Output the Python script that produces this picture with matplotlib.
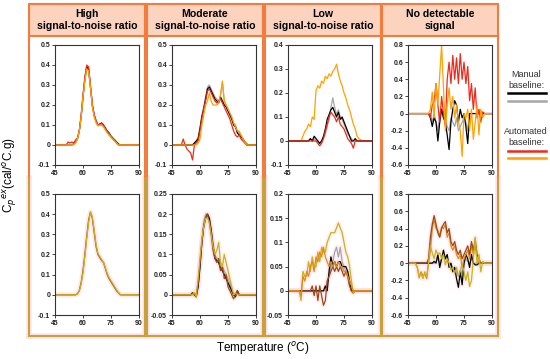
import matplotlib.pyplot as plt
from matplotlib.patches import Rectangle
from matplotlib.lines import Line2D

plt.rcParams["font.family"] = ["Liberation Sans", "DejaVu Sans"]

# temperature grid (degC), one value per degree
temps = list(range(45, 91))

titles = ["High\nsignal-to-noise ratio", "Moderate\nsignal-to-noise ratio",
          "Low\nsignal-to-noise ratio", "No detectable\nsignal"]

# ---- top row: black / grey = manual baseline, red / orange = automated
high_black = [0, 0, 0, 0, 0, 0, 0, 0, 0, 0,
              0.005, 0.015, 0.03, 0.07, 0.14, 0.24, 0.33, 0.39, 0.38, 0.29,
              0.20, 0.15, 0.12, 0.10, 0.105, 0.11, 0.10, 0.085, 0.07, 0.06,
              0.045, 0.035, 0.025, 0.015, 0.005, 0, 0, 0, 0, 0,
              0, 0, 0, 0, 0, 0]
high_grey = [0, 0, 0, 0, 0, 0, 0, 0, 0, 0,
             0.005, 0.01, 0.03, 0.07, 0.14, 0.24, 0.33, 0.38, 0.37, 0.29,
             0.20, 0.15, 0.12, 0.10, 0.10, 0.105, 0.095, 0.08, 0.065, 0.055,
             0.04, 0.03, 0.02, 0.01, 0, 0, 0, 0, 0, 0,
             0, 0, 0, 0, 0, 0]
high_red = [0, 0, 0, 0, 0, 0, 0, 0.015, 0.01, 0.015,
            0.01, 0.025, 0.035, 0.07, 0.15, 0.25, 0.34, 0.40, 0.39, 0.30,
            0.20, 0.15, 0.12, 0.10, 0.10, 0.11, 0.095, 0.08, 0.065, 0.05,
            0.04, 0.03, 0.02, 0.01, 0, 0, 0, 0, 0, 0,
            0, 0, 0, 0, 0, 0]
high_orange = [0, 0, 0, 0, 0, 0, 0, 0, 0, 0,
               0, 0.01, 0.03, 0.07, 0.14, 0.24, 0.32, 0.38, 0.37, 0.29,
               0.19, 0.14, 0.11, 0.095, 0.10, 0.10, 0.09, 0.075, 0.06, 0.05,
               0.04, 0.03, 0.02, 0.01, 0, 0, 0, 0, 0, 0,
               0, 0, 0, 0, 0, 0]

mod_black = [0, 0, 0, 0, 0, 0, 0, 0, 0, 0,
             0, 0, 0.01, 0.02, 0.03, 0.08, 0.14, 0.18, 0.23, 0.28,
             0.29, 0.27, 0.25, 0.23, 0.22, 0.21, 0.24, 0.22, 0.20, 0.19,
             0.17, 0.15, 0.13, 0.10, 0.09, 0.06, 0.05, 0.04, 0.03, 0.01,
             0, 0, 0, 0, 0, 0]
mod_grey = [0, 0, 0, 0, 0, 0, 0, 0, 0, 0,
            0, 0, 0.01, 0.02, 0.04, 0.09, 0.15, 0.19, 0.24, 0.29,
            0.30, 0.28, 0.26, 0.24, 0.23, 0.22, 0.25, 0.31, 0.22, 0.20,
            0.18, 0.16, 0.14, 0.11, 0.10, 0.07, 0.06, 0.05, 0.03, 0.02,
            0.01, 0, 0, 0, 0, 0]
mod_red = [0, 0, 0, 0, 0, 0, 0.03, 0.0, -0.02, -0.03,
           -0.04, -0.075, 0.0, 0.01, 0.02, 0.07, 0.13, 0.18, 0.22, 0.27,
           0.28, 0.26, 0.24, 0.22, 0.21, 0.22, 0.23, 0.21, 0.19, 0.17,
           0.15, 0.13, 0.10, 0.07, 0.05, 0.04, 0.05, 0.03, 0.02, 0.01,
           0, 0, 0, 0, 0, 0]
mod_orange = [0, 0, 0, 0, 0, 0, 0, 0, 0, 0,
              0, 0, 0, 0, 0.01, 0.03, 0.10, 0.15, 0.20, 0.22,
              0.26, 0.22, 0.20, 0.20, 0.20, 0.21, 0.25, 0.32, 0.22, 0.20,
              0.18, 0.16, 0.14, 0.11, 0.09, 0.07, 0.07, 0.05, 0.03, 0.01,
              0, 0, 0, 0, 0, 0]

low_black = [0, 0, 0, 0, 0, 0, 0, 0, 0, 0,
             0, 0, 0.01, 0.0, 0.02, 0.01, 0.0, -0.01, 0.0, 0.02,
             0.05, 0.09, 0.11, 0.13, 0.14, 0.12, 0.10, 0.12, 0.09, 0.10,
             0.08, 0.06, 0.04, 0.02, 0.0, 0.0, 0.01, 0, 0, 0,
             0, 0, 0, 0, 0, 0]
low_grey = [0, 0, 0, 0, 0, 0, 0, 0, 0, 0,
            0, 0, 0.01, 0.0, 0.01, 0.0, 0.0, -0.01, 0.0, 0.01,
            0.03, 0.06, 0.09, 0.14, 0.18, 0.14, 0.11, 0.13, 0.10, 0.09,
            0.07, 0.05, 0.03, 0.02, 0.01, 0, 0, 0, 0, 0,
            0, 0, 0, 0, 0, 0]
low_red = [0, 0, 0, 0, 0, 0, 0, 0, 0, 0,
           0, 0, 0, 0, 0.0, 0.0, -0.01, -0.02, -0.01, 0.01,
           0.04, 0.07, 0.10, 0.12, 0.11, 0.10, 0.08, 0.10, 0.07, 0.06,
           0.05, 0.03, 0.01, 0.0, -0.01, -0.03, 0.0, 0.0, 0, 0,
           0, 0, 0, 0, 0, 0]
low_orange = [0, 0, 0, 0, 0, 0, 0, 0.0, 0.02, 0.04,
              0.05, 0.07, 0.06, 0.10, 0.09, 0.21, 0.23, 0.22, 0.25, 0.24,
              0.27, 0.26, 0.28, 0.27, 0.29, 0.30, 0.32, 0.28, 0.25, 0.23,
              0.20, 0.18, 0.15, 0.13, 0.10, 0.07, 0.05, 0.02, 0.01, 0.005,
              0, 0, 0, 0, 0, 0]

none_black = [0, 0, 0, 0, 0, 0, 0, 0, 0, 0,
              0, 0, -0.05, -0.15, -0.05, -0.1, -0.32, -0.1, 0.05, -0.05,
              -0.1, -0.25, -0.42, -0.1, 0.05, 0.15, 0.1, -0.1, 0.05, -0.05,
              0.0, -0.15, -0.35, 0.0, 0.0, 0, 0, 0, 0, 0,
              0, 0, 0, 0, 0, 0]
none_grey = [0, 0, 0, 0, 0, 0, 0, 0, 0, 0,
             0, 0, 0.0, -0.1, 0.0, -0.1, -0.2, 0.0, 0.05, -0.05,
             -0.05, -0.15, -0.2, -0.05, -0.1, -0.15, -0.05, -0.2, -0.15, -0.1,
             -0.05, -0.1, -0.2, 0.0, 0, 0, 0, 0, 0, 0,
             0, 0, 0, 0, 0, 0]
none_red = [0, 0, 0, 0, 0, 0, 0, 0, 0, 0,
            0, 0, -0.05, 0.1, 0.15, 0.35, 0.1, -0.1, 0.2, 0.0,
            -0.15, 0.4, 0.6, 0.35, 0.68, 0.4, 0.65, 0.35, 0.7, 0.4,
            0.6, 0.35, 0.55, 0.15, 0.35, 0.05, 0.3, -0.05, 0.05, -0.1,
            0.02, 0, 0, 0, 0, 0]
none_orange = [0, 0, 0, 0, 0, 0, 0, 0, 0, 0,
               0, 0, 0.05, 0.25, -0.05, 0.35, 0.1, 0.45, 0.8, 0.3,
               -0.2, 0.1, 0.3, 0.05, 0.2, -0.05, 0.1, -0.1, -0.2, -0.5,
               0.0, -0.05, 0.05, -0.2, 0.05, -0.3, -0.1, 0.1, -0.25, 0.05,
               -0.05, 0, 0, 0, 0, 0]

# ---- bottom row
high2_brown = [0, 0, 0, 0, 0, 0, 0, 0, 0, 0,
               0, 0, 0.005, 0.02, 0.06, 0.12, 0.20, 0.29, 0.37, 0.41,
               0.38, 0.31, 0.24, 0.20, 0.185, 0.17, 0.16, 0.13, 0.10, 0.08,
               0.065, 0.05, 0.035, 0.02, 0.01, 0, 0, 0, 0, 0,
               0, 0, 0, 0, 0, 0]
high2_olive = [0, 0, 0, 0, 0, 0, 0, 0, 0, 0,
               0, 0, 0.005, 0.02, 0.055, 0.11, 0.19, 0.28, 0.36, 0.41,
               0.385, 0.32, 0.25, 0.205, 0.19, 0.175, 0.16, 0.135, 0.105, 0.085,
               0.07, 0.055, 0.04, 0.025, 0.012, 0.002, 0, 0, 0, 0,
               0, 0, 0, 0, 0, 0]

mod2_black = [0, 0, 0, 0, 0, 0, 0, 0, 0, 0,
              0, 0.005, 0.0, -0.005, 0.02, 0.07, 0.13, 0.17, 0.19, 0.20,
              0.19, 0.16, 0.12, 0.09, 0.085, 0.08, 0.065, 0.06, 0.05, 0.04,
              0.03, 0.02, 0.01, 0.0, -0.005, 0.01, 0, 0, 0, 0,
              0, 0, 0, 0, 0, 0]
mod2_grey = [0, 0, 0, 0, 0, 0, 0, 0, 0, 0,
             0, 0, 0.005, 0, 0.02, 0.07, 0.13, 0.18, 0.20, 0.20,
             0.19, 0.16, 0.13, 0.10, 0.09, 0.09, 0.08, 0.07, 0.06, 0.05,
             0.04, 0.03, 0.01, 0.0, 0.0, 0.005, 0, 0, 0, 0,
             0, 0, 0, 0, 0, 0]
mod2_brown = [0, 0, 0, 0, 0, 0, 0, 0, 0, 0,
              0, 0.005, 0.0, 0.0, 0.03, 0.08, 0.13, 0.17, 0.19, 0.20,
              0.18, 0.15, 0.11, 0.09, 0.08, 0.09, 0.06, 0.07, 0.04, 0.05,
              0.02, 0.01, 0.0, -0.01, 0.0, 0.01, 0, 0, 0, 0,
              0, 0, 0, 0, 0, 0]
mod2_olive = [0, 0, 0, 0, 0, 0, 0, 0, 0, 0,
              0, 0, 0.005, -0.005, 0.04, 0.09, 0.14, 0.17, 0.19, 0.19,
              0.18, 0.15, 0.12, 0.10, 0.11, 0.13, 0.08, 0.07, 0.10, 0.08,
              0.06, 0.04, 0.02, 0.0, 0.005, 0, 0, 0, 0, 0,
              0, 0, 0, 0, 0, 0]

low2_black = [0, 0, 0, 0, 0, 0, 0, 0, 0, 0,
              0, 0, 0, 0, 0, 0, 0, 0, 0, 0,
              0.01, 0.0, 0.04, 0.07, 0.05, 0.06, 0.05, 0.06, 0.06, 0.05,
              0.05, 0.05, 0.04, 0.02, 0.0, 0, 0, 0, 0, 0,
              0, 0, 0, 0, 0, 0]
low2_grey = [0, 0, 0, 0, 0, 0, 0, 0, 0, 0,
             0, 0, 0, 0, 0, 0, 0, 0, 0, 0,
             0.0, 0.02, 0.03, 0.05, 0.06, 0.08, 0.09, 0.07, 0.09, 0.06,
             0.05, 0.04, 0.03, 0.01, 0, 0, 0, 0, 0, 0,
             0, 0, 0, 0, 0, 0]
low2_brown = [0, 0, 0, 0, 0, 0, 0, 0, 0, 0,
              0, 0, 0, 0.01, -0.01, 0.01, -0.02, 0.01, -0.01, -0.03,
              -0.02, 0.02, 0.03, 0.04, 0.05, 0.04, 0.05, 0.04, 0.05, 0.04,
              0.03, 0.04, 0.03, 0.01, 0.0, -0.005, 0, 0, 0, 0,
              0, 0, 0, 0, 0, 0]
low2_orange = [0, 0, 0, 0, 0, 0, 0, -0.01, 0.03, 0.02,
               0.04, 0.03, 0.05, 0.06, 0.04, 0.07, 0.06, 0.08, 0.07, 0.09,
               0.07, 0.06, 0.05, 0.06, 0.05, 0.06, 0.05, 0.06, 0.05, 0.05,
               0.04, 0.04, 0.03, 0.02, 0.01, 0, 0, 0, 0, 0,
               0, 0, 0, 0, 0, 0]
low2_olive = [0, 0, 0, 0, 0, 0, 0, -0.02, 0.04, 0.03,
              0.03, 0.06, 0.04, 0.07, 0.05, 0.05, 0.08, 0.06, 0.09, 0.08,
              0.08, 0.10, 0.11, 0.12, 0.12, 0.12, 0.13, 0.14, 0.13, 0.12,
              0.10, 0.08, 0.07, 0.05, 0.02, -0.005, 0, 0, 0, 0,
              0, 0, 0, 0, 0, 0]

none2_black = [0, 0, 0, 0, 0, 0, 0, 0, 0, 0,
               0, 0, 0, 0, 0.02, 0.0, 0.1, -0.05, 0.05, 0.15,
               0.05, 0.1, -0.05, 0.0, -0.1, -0.05, -0.18, -0.28, -0.1, -0.25,
               0.0, 0.1, 0.05, -0.05, 0.1, 0.0, -0.02, -0.02, 0.0, 0.0,
               0, 0, 0, 0, 0, 0]
none2_grey = [0, 0, 0, 0, 0, 0, 0, 0, 0, 0,
              0, 0, 0, 0, 0.0, 0.02, 0.05, 0.0, 0.05, 0.1,
              0.05, 0.05, 0.0, -0.02, -0.05, -0.05, -0.1, -0.15, -0.08, -0.12,
              0.0, 0.05, 0.02, 0.0, 0.05, 0, 0, 0, 0, 0,
              0, 0, 0, 0, 0, 0]
none2_orange = [0, 0, 0, 0, 0, -0.05, -0.17, -0.1, -0.15, -0.12,
                -0.18, 0.0, 0.15, 0.4, 0.5, 0.4, 0.38, 0.32, 0.42, 0.4,
                0.45, 0.3, 0.35, 0.2, 0.15, 0.2, 0.1, 0.05, 0.1, -0.05,
                0.05, 0.1, 0.15, 0.05, 0.2, 0.1, 0.2, 0.05, 0.0, 0.0,
                0, 0, 0, 0, 0, 0]
none2_brown = [0, 0, 0, 0, 0, 0, 0, 0, 0, 0,
               0, 0.05, 0.3, 0.45, 0.55, 0.45, 0.35, 0.3, 0.4, 0.45,
               0.48, 0.35, 0.4, 0.25, 0.2, 0.25, 0.15, 0.1, 0.15, 0.05,
               0.1, 0.15, 0.2, 0.1, 0.25, 0.15, 0.28, 0.1, 0.05, 0.0,
               0, 0, 0, 0, 0, 0]
none2_olive = [0, 0, 0, 0, 0, -0.05, -0.15, -0.12, -0.18, -0.1,
               -0.16, 0.0, 0.2, 0.12, 0.05, 0.15, 0.1, 0.12, 0.05, 0.1,
               -0.02, 0.05, 0.0, -0.08, -0.05, -0.12, -0.05, -0.15, -0.1, 0.0,
               -0.1, -0.2, -0.1, -0.27, -0.2, 0.05, 0.3, 0.0, 0.1, -0.1,
               0.02, 0, 0, 0, 0, 0]

# y-axis limits and ticks for each panel
top_ylims = [(-0.1, 0.5), (-0.1, 0.5), (-0.1, 0.4), (-0.6, 0.8)]
top_ysteps = [0.1, 0.1, 0.1, 0.2]
bot_ylims = [(-0.1, 0.5), (-0.05, 0.25), (-0.05, 0.2), (-0.6, 0.8)]
bot_ysteps = [0.1, 0.05, 0.05, 0.2]
xticks = [45, 60, 75, 90]

BLACK, GREY, RED, ORANGE = "#000000", "#a6a6a6", "#ee2a1c", "#ffa100"
BROWN, DKORANGE, OLIVE = "#9a4a16", "#e08a10", "#c8b414"
BORDER, GOLD, PEACH = "#f37b3d", "#c9a13a", "#fbd3bf"

top_series = [
    [(high_black, BLACK), (high_grey, GREY), (high_red, RED), (high_orange, ORANGE)],
    [(mod_grey, GREY), (mod_black, BLACK), (mod_red, RED), (mod_orange, ORANGE)],
    [(low_orange, ORANGE), (low_grey, GREY), (low_black, BLACK), (low_red, RED)],
    [(none_grey, GREY), (none_black, BLACK), (none_red, RED), (none_orange, ORANGE)],
]
bot_series = [
    [(high2_brown, BROWN), (high2_olive, OLIVE)],
    [(mod2_grey, GREY), (mod2_black, BLACK), (mod2_brown, BROWN), (mod2_olive, OLIVE)],
    [(low2_grey, GREY), (low2_black, BLACK), (low2_brown, BROWN), (low2_olive, OLIVE),
     (low2_orange, DKORANGE)],
    [(none2_grey, GREY), (none2_black, BLACK), (none2_orange, DKORANGE),
     (none2_brown, BROWN), (none2_olive, OLIVE)],
]

W, H = 550, 359


def fx(x):
    return x / W


def fy(y):
    return 1 - y / H


def tick_values(lo, hi, step):
    n = int(round((hi - lo) / step))
    return [round(lo + i * step, 3) for i in range(n + 1)]


def style_axes(ax, ylim, step):
    ax.set_xlim(45, 90)
    ax.set_ylim(*ylim)
    ax.set_xticks(xticks)
    ax.set_xticklabels([str(t) for t in xticks])
    yt = tick_values(ylim[0], ylim[1], step)
    ax.set_yticks(yt)
    ax.set_yticklabels([f"{v:g}" for v in yt])
    ax.tick_params(labelsize=5, length=2, width=0.6, pad=1.5, colors="#222222")
    for lab in ax.get_xticklabels() + ax.get_yticklabels():
        lab.set_fontweight("bold")
    for sp in ax.spines.values():
        sp.set_linewidth(0.8)
        sp.set_color("#333333")


fig = plt.figure(figsize=(5.5, 3.59), dpi=100)

col_left = [29, 147, 265, 382]
col_w = 116
ax_left = [55, 172, 288, 408]
ax_w = 84

for i in range(4):
    cl = col_left[i]
    # header box
    fig.add_artist(Rectangle((fx(cl), fy(36)), col_w / W, 32 / H,
                             transform=fig.transFigure, facecolor=PEACH,
                             edgecolor=BORDER, lw=1.5))
    fig.text(fx(cl + col_w / 2), fy(20), titles[i], ha="center", va="center",
             fontsize=7.6, fontweight="bold", linespacing=1.15)
    # body frame: orange upper part, gold lower part with a pink glow
    for xx in (cl, cl + col_w):
        fig.add_artist(Line2D([fx(xx), fx(xx)], [fy(178), fy(336)],
                              color="#fce3ee", lw=4, zorder=0))
        fig.add_artist(Line2D([fx(xx), fx(xx)], [fy(36), fy(178)],
                              color=BORDER, lw=1.5))
        fig.add_artist(Line2D([fx(xx), fx(xx)], [fy(178), fy(336)],
                              color=GOLD, lw=1.5))
    fig.add_artist(Line2D([fx(cl), fx(cl + col_w)], [fy(336), fy(336)],
                          color="#fce3ee", lw=4, zorder=0))
    fig.add_artist(Line2D([fx(cl), fx(cl + col_w)], [fy(336), fy(336)],
                          color=GOLD, lw=1.5))

    ax = fig.add_axes([fx(ax_left[i]), fy(165), ax_w / W, 120 / H])
    for vals, c in top_series[i]:
        ax.plot(temps, vals, color=c, lw=0.9)
    style_axes(ax, top_ylims[i], top_ysteps[i])

    ax = fig.add_axes([fx(ax_left[i]), fy(315), ax_w / W, 121 / H])
    for vals, c in bot_series[i]:
        ax.plot(temps, vals, color="#fcdcea", lw=3.5, alpha=0.45, zorder=1)
    for vals, c in bot_series[i]:
        ax.plot(temps, vals, color=c, lw=0.9, zorder=2)
    style_axes(ax, bot_ylims[i], bot_ysteps[i])

# legend on the right
fig.text(fx(526), fy(80), "Manual\nbaseline:", ha="center", va="center",
         fontsize=6.5, color="#333333", linespacing=1.2)
fig.text(fx(526), fy(137), "Automated\nbaseline:", ha="center", va="center",
         fontsize=6.5, color="#333333", linespacing=1.2)
for yy, c in [(93, BLACK), (101, GREY), (151, RED), (158, ORANGE)]:
    fig.add_artist(Line2D([fx(508), fx(546)], [fy(yy), fy(yy)], color=c, lw=1.8))

fig.text(fx(10), fy(175), r"C$_p$$^{ex}$(cal/$^o$C.g)", rotation=90,
         ha="center", va="center", fontsize=8.5)
fig.text(fx(263), fy(348), r"Temperature ($^o$C)", ha="center", va="center",
         fontsize=8.5)

fig.savefig("out.png", dpi=100)
